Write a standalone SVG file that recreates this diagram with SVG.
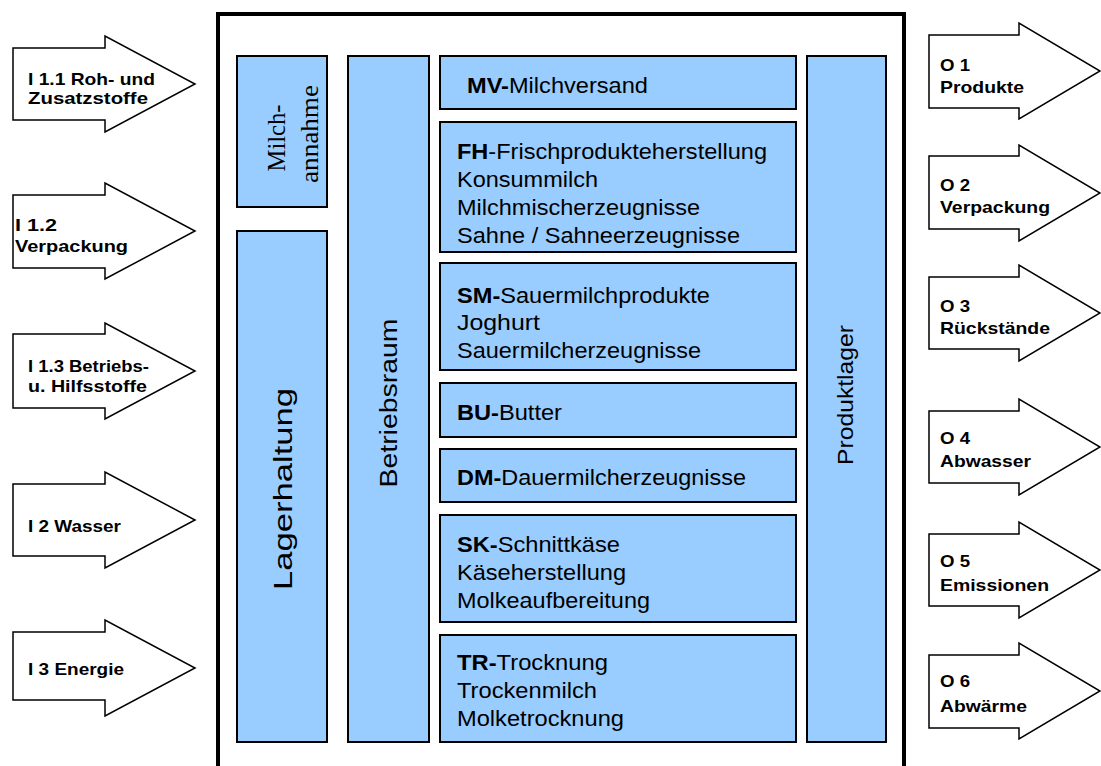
<svg xmlns="http://www.w3.org/2000/svg" width="1101" height="766" viewBox="0 0 1101 766">
  <style>
    .arrow { fill: #ffffff; stroke: #000000; stroke-width: 1.5; stroke-linejoin: miter; }
    .unit { fill: #99ccff; stroke: #000000; stroke-width: 2; }
    .frame { fill: #ffffff; stroke: #000000; stroke-width: 4; }
    .lbl { font-family: "Liberation Sans", Arial, sans-serif; font-weight: bold; font-size: 17px; fill: #000000; }
    .txt { font-family: "Liberation Sans", Arial, sans-serif; font-size: 21.5px; fill: #000000; }
    .txt .b { font-weight: bold; }
    .vert { font-family: "Liberation Sans", Arial, sans-serif; fill: #000000; text-anchor: middle; }
    .serif { font-family: "Liberation Serif", "Times New Roman", serif; font-size: 26px; fill: #000000; text-anchor: middle; }
  </style>

  <rect width="1101" height="766" fill="#ffffff"/>

  <!-- plant boundary -->
  <rect class="frame" x="218" y="14" width="686" height="790"/>

  <!-- inputs -->
  <g id="in-rohstoffe">
    <path class="arrow" d="M13,48 H105 V36 L195,84 L105,132 V120 H13 Z"/>
    <text class="lbl" x="28" y="85" textLength="127" lengthAdjust="spacingAndGlyphs">I 1.1 Roh- und</text>
    <text class="lbl" x="28" y="104" textLength="120" lengthAdjust="spacingAndGlyphs">Zusatzstoffe</text>
  </g>
  <g id="in-verpackung">
    <path class="arrow" d="M13,195 H105 V183 L195,231 L105,279 V268 H13 Z"/>
    <text class="lbl" x="15" y="231" textLength="42" lengthAdjust="spacingAndGlyphs">I 1.2</text>
    <text class="lbl" x="15" y="252" textLength="113" lengthAdjust="spacingAndGlyphs">Verpackung</text>
  </g>
  <g id="in-betriebsstoffe">
    <path class="arrow" d="M13,334 H105 V323 L195,371 L105,419 V408 H13 Z"/>
    <text class="lbl" x="28" y="372" textLength="121" lengthAdjust="spacingAndGlyphs">I 1.3 Betriebs-</text>
    <text class="lbl" x="28" y="392" textLength="119" lengthAdjust="spacingAndGlyphs">u. Hilfsstoffe</text>
  </g>
  <g id="in-wasser">
    <path class="arrow" d="M13,484 H105 V472 L195,520 L105,568 V556 H13 Z"/>
    <text class="lbl" x="28" y="532" textLength="93" lengthAdjust="spacingAndGlyphs">I 2 Wasser</text>
  </g>
  <g id="in-energie">
    <path class="arrow" d="M13,632 H105 V620 L195,668 L105,716 V700 H13 Z"/>
    <text class="lbl" x="28" y="675" textLength="96" lengthAdjust="spacingAndGlyphs">I 3 Energie</text>
  </g>

  <!-- outputs -->
  <g id="out-produkte">
    <path class="arrow" d="M929,35 H1019 V23 L1100,71 L1019,119 V108 H929 Z"/>
    <text class="lbl" x="940" y="71" textLength="30" lengthAdjust="spacingAndGlyphs">O 1</text>
    <text class="lbl" x="940" y="93" textLength="84" lengthAdjust="spacingAndGlyphs">Produkte</text>
  </g>
  <g id="out-verpackung">
    <path class="arrow" d="M929,156 H1019 V145 L1100,193 L1019,241 V229 H929 Z"/>
    <text class="lbl" x="940" y="191" textLength="30" lengthAdjust="spacingAndGlyphs">O 2</text>
    <text class="lbl" x="940" y="213" textLength="110" lengthAdjust="spacingAndGlyphs">Verpackung</text>
  </g>
  <g id="out-rueckstaende">
    <path class="arrow" d="M929,277 H1019 V265 L1100,313 L1019,361 V349 H929 Z"/>
    <text class="lbl" x="940" y="312" textLength="30" lengthAdjust="spacingAndGlyphs">O 3</text>
    <text class="lbl" x="940" y="334" textLength="110" lengthAdjust="spacingAndGlyphs">Rückstände</text>
  </g>
  <g id="out-abwasser">
    <path class="arrow" d="M929,411 H1019 V399 L1100,447 L1019,495 V483 H929 Z"/>
    <text class="lbl" x="940" y="444" textLength="30" lengthAdjust="spacingAndGlyphs">O 4</text>
    <text class="lbl" x="940" y="467" textLength="91" lengthAdjust="spacingAndGlyphs">Abwasser</text>
  </g>
  <g id="out-emissionen">
    <path class="arrow" d="M929,534 H1019 V522 L1100,570 L1019,618 V606 H929 Z"/>
    <text class="lbl" x="940" y="567" textLength="30" lengthAdjust="spacingAndGlyphs">O 5</text>
    <text class="lbl" x="940" y="591" textLength="109" lengthAdjust="spacingAndGlyphs">Emissionen</text>
  </g>
  <g id="out-abwaerme">
    <path class="arrow" d="M929,655 H1019 V643 L1100,691 L1019,739 V728 H929 Z"/>
    <text class="lbl" x="940" y="687" textLength="30" lengthAdjust="spacingAndGlyphs">O 6</text>
    <text class="lbl" x="940" y="712" textLength="87" lengthAdjust="spacingAndGlyphs">Abwärme</text>
  </g>

  <!-- storage and service areas -->
  <g id="milchannahme">
    <rect class="unit" x="237" y="56" width="90" height="151"/>
    <text class="serif" transform="translate(285,138) rotate(-90)" textLength="67" lengthAdjust="spacingAndGlyphs">Milch-</text>
    <text class="serif" transform="translate(318,134) rotate(-90)" textLength="98" lengthAdjust="spacingAndGlyphs">annahme</text>
  </g>
  <g id="lagerhaltung">
    <rect class="unit" x="237" y="231" width="90" height="511"/>
    <text class="vert" font-size="26" transform="translate(292,489) rotate(-90)" textLength="202" lengthAdjust="spacingAndGlyphs">Lagerhaltung</text>
  </g>
  <g id="betriebsraum">
    <rect class="unit" x="348" y="56" width="81" height="686"/>
    <text class="vert" font-size="23" transform="translate(397,403) rotate(-90)" textLength="169" lengthAdjust="spacingAndGlyphs">Betriebsraum</text>
  </g>
  <g id="produktlager">
    <rect class="unit" x="807" y="56" width="79" height="686"/>
    <text class="vert" font-size="22" transform="translate(853,395) rotate(-90)" textLength="140" lengthAdjust="spacingAndGlyphs">Produktlager</text>
  </g>

  <!-- production departments -->
  <g id="mv">
    <rect class="unit" x="440" y="56" width="356" height="53"/>
    <text class="txt" x="467" y="93" textLength="181" lengthAdjust="spacingAndGlyphs"><tspan class="b">MV-</tspan>Milchversand</text>
  </g>
  <g id="fh">
    <rect class="unit" x="440" y="122" width="356" height="130"/>
    <text class="txt" x="457" y="159" textLength="310" lengthAdjust="spacingAndGlyphs"><tspan class="b">FH</tspan>-Frischprodukteherstellung</text>
    <text class="txt" x="457" y="187" textLength="141" lengthAdjust="spacingAndGlyphs">Konsummilch</text>
    <text class="txt" x="457" y="215" textLength="243" lengthAdjust="spacingAndGlyphs">Milchmischerzeugnisse</text>
    <text class="txt" x="457" y="243" textLength="283" lengthAdjust="spacingAndGlyphs">Sahne / Sahneerzeugnisse</text>
  </g>
  <g id="sm">
    <rect class="unit" x="440" y="263" width="356" height="107"/>
    <text class="txt" x="457" y="303" textLength="253" lengthAdjust="spacingAndGlyphs"><tspan class="b">SM-</tspan>Sauermilchprodukte</text>
    <text class="txt" x="457" y="330" textLength="83" lengthAdjust="spacingAndGlyphs">Joghurt</text>
    <text class="txt" x="457" y="358" textLength="244" lengthAdjust="spacingAndGlyphs">Sauermilcherzeugnisse</text>
  </g>
  <g id="bu">
    <rect class="unit" x="440" y="383" width="356" height="54"/>
    <text class="txt" x="457" y="420" textLength="105" lengthAdjust="spacingAndGlyphs"><tspan class="b">BU-</tspan>Butter</text>
  </g>
  <g id="dm">
    <rect class="unit" x="440" y="449" width="356" height="53"/>
    <text class="txt" x="457" y="485" textLength="289" lengthAdjust="spacingAndGlyphs"><tspan class="b">DM-</tspan>Dauermilcherzeugnisse</text>
  </g>
  <g id="sk">
    <rect class="unit" x="440" y="515" width="356" height="107"/>
    <text class="txt" x="457" y="552" textLength="163" lengthAdjust="spacingAndGlyphs"><tspan class="b">SK-</tspan>Schnittkäse</text>
    <text class="txt" x="457" y="580" textLength="169" lengthAdjust="spacingAndGlyphs">Käseherstellung</text>
    <text class="txt" x="457" y="608" textLength="193" lengthAdjust="spacingAndGlyphs">Molkeaufbereitung</text>
  </g>
  <g id="tr">
    <rect class="unit" x="440" y="635" width="356" height="107"/>
    <text class="txt" x="457" y="670" textLength="151" lengthAdjust="spacingAndGlyphs"><tspan class="b">TR-</tspan>Trocknung</text>
    <text class="txt" x="457" y="698" textLength="140" lengthAdjust="spacingAndGlyphs">Trockenmilch</text>
    <text class="txt" x="457" y="726" textLength="167" lengthAdjust="spacingAndGlyphs">Molketrocknung</text>
  </g>
</svg>
